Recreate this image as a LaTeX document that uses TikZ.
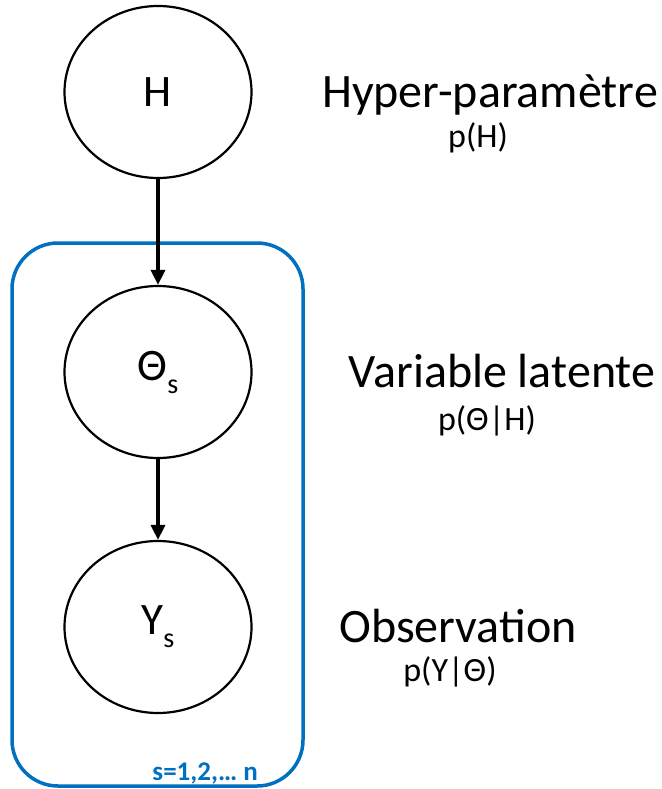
\documentclass[tikz,border=0pt]{standalone}
\usepackage{fontspec}
\setmainfont{Carlito}
\usetikzlibrary{arrows.meta,shapes.geometric}
\definecolor{plateblue}{HTML}{0070C0}
\begin{document}
\begin{tikzpicture}[x=1pt,y=-1pt,
  var/.style={draw=black,line width=2.2pt,ellipse,minimum width=187pt,minimum height=172pt,inner sep=0pt,font=\fontsize{45}{45}\selectfont},
  bigtxt/.style={inner sep=0pt,anchor=base,font=\fontsize{48}{48}\selectfont},
  smalltxt/.style={inner sep=0pt,anchor=base,font=\fontsize{34}{34}\selectfont},
  edge/.style={line width=3.4pt,-{Triangle[length=15pt,width=14pt]}},
  plate/.style={draw=plateblue,line width=3.5pt,rounded corners=46pt}]
\useasboundingbox (0,0) rectangle (661,789);
\node[plate,minimum width=291pt,minimum height=543pt,inner sep=0pt] (plate) at (157.5,514.5) {};
\node[var] (H) at (158,92) {H};
\node[var] (T) at (158,372) {Θ\raisebox{-13pt}{\fontsize{28}{28}\selectfont s}};
\node[var] (Y) at (158,627) {Y\raisebox{-13pt}{\fontsize{28}{28}\selectfont s}};
\draw[edge] (H) -- (T);
\draw[edge] (T) -- (Y);
\node[bigtxt] (t1) at (490,108) {Hyper-paramètre};
\node[smalltxt] (p1) at (478,147) {p(H)};
\node[bigtxt] (t2) at (502,387) {Variable latente};
\node[smalltxt] (p2) at (487,430) {p(Θ|H)};
\node[bigtxt] (t3) at (458,642) {Observation};
\node[smalltxt] (p3) at (450,681) {p(Y|Θ)};
\node[inner sep=0pt,anchor=base east,text=plateblue,font=\fontsize{27}{27}\selectfont\bfseries] (lab) at (258,780) {s=1,2,… n};
\end{tikzpicture}
\end{document}
